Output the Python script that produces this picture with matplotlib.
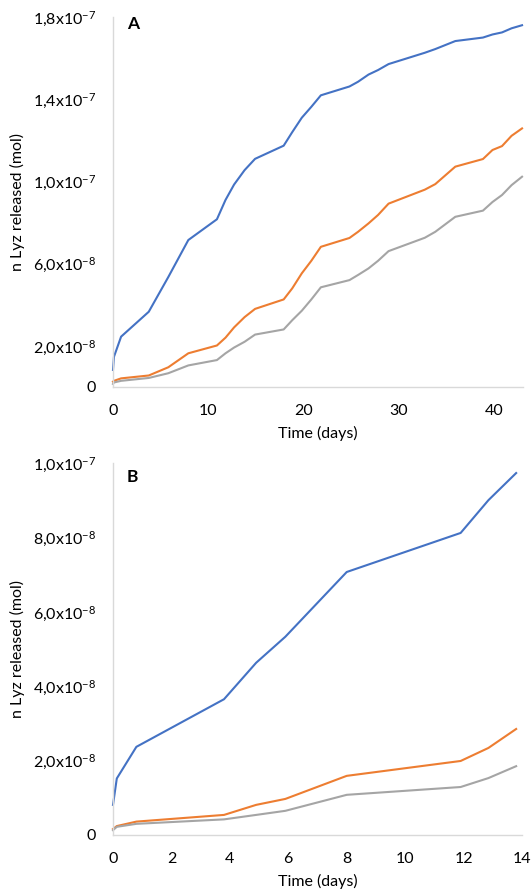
import matplotlib
matplotlib.use("Agg")
import matplotlib.pyplot as plt

plt.rcParams['font.family'] = ['Lato', 'DejaVu Sans']
plt.rcParams['mathtext.default'] = 'regular'

# Panel A data (values in units of 1e-8 mol)
tA = [0, 0.1, 0.85, 3.75, 5.8, 7.9, 10.9, 11.8, 12.7, 13.8, 14.9, 17.9, 18.8, 19.8,
      20.8, 21.8, 24.8, 25.7, 26.8, 27.8, 28.9, 32.7, 33.8, 35.9, 38.8, 39.8, 40.8, 41.8, 42.9]
blueA = [0.83, 1.47, 2.45, 3.66, 5.35, 7.15, 8.16, 9.1, 9.85, 10.55, 11.1, 11.74, 12.4, 13.1,
         13.63, 14.19, 14.62, 14.85, 15.2, 15.42, 15.71, 16.26, 16.44, 16.83, 17.0, 17.15, 17.25, 17.45, 17.6]
orangeA = [0.26, 0.3, 0.42, 0.56, 0.96, 1.64, 2.02, 2.4, 2.9, 3.4, 3.8, 4.26, 4.8, 5.53,
           6.14, 6.82, 7.25, 7.55, 7.96, 8.37, 8.92, 9.6, 9.87, 10.72, 11.09, 11.53, 11.72, 12.22, 12.58]
grayA = [0.15, 0.22, 0.3, 0.44, 0.67, 1.05, 1.31, 1.64, 1.92, 2.2, 2.55, 2.8, 3.25, 3.71,
         4.26, 4.85, 5.2, 5.45, 5.77, 6.14, 6.61, 7.26, 7.55, 8.28, 8.58, 9.0, 9.34, 9.82, 10.23]

# Panel B data (values in units of 1e-8 mol)
tB = [0, 0.13, 0.8, 3.8, 4.9, 5.9, 8.0, 11.9, 12.85, 13.8]
blueB = [0.81, 1.52, 2.37, 3.65, 4.63, 5.33, 7.07, 8.12, 9.0, 9.73]
orangeB = [0.16, 0.24, 0.36, 0.54, 0.81, 0.97, 1.59, 1.99, 2.34, 2.85]
grayB = [0.13, 0.22, 0.3, 0.42, 0.54, 0.65, 1.08, 1.29, 1.53, 1.85]

SCALE = 1e-8

yticksA = [0, 2e-8, 6e-8, 1e-7, 1.4e-7, 1.8e-7]
yticklabelsA = ['0', r'2,0x10$^{-8}$', r'6,0x10$^{-8}$', r'1,0x10$^{-7}$', r'1,4x10$^{-7}$', r'1,8x10$^{-7}$']
xticksA = [0, 10, 20, 30, 40]

yticksB = [0, 2e-8, 4e-8, 6e-8, 8e-8, 1e-7]
yticklabelsB = ['0', r'2,0x10$^{-8}$', r'4,0x10$^{-8}$', r'6,0x10$^{-8}$', r'8,0x10$^{-8}$', r'1,0x10$^{-7}$']
xticksB = [0, 2, 4, 6, 8, 10, 12, 14]

BLUE = '#4472C4'
ORANGE = '#ED7D31'
GRAY = '#A5A5A5'
SPINE = '#D9D9D9'

fig = plt.figure(figsize=(5.32, 8.9), dpi=100)
W, H = 532, 890

def make_ax(l, r, t, b):
    return fig.add_axes([l / W, 1 - b / H, (r - l) / W, (b - t) / H])

axA = make_ax(113, 523, 17, 387)
axB = make_ax(113, 522, 463, 835)

def style(ax, xlim, ylim, xticks, yticks, ylabels, letter, letter_top_px):
    ax.set_xlim(*xlim)
    ax.set_ylim(*ylim)
    ax.set_xticks(xticks)
    ax.set_xticklabels([str(x) for x in xticks])
    ax.set_yticks(yticks)
    ax.set_yticklabels(ylabels)
    for s in ['top', 'right']:
        ax.spines[s].set_visible(False)
    for s in ['left', 'bottom']:
        ax.spines[s].set_color(SPINE)
        ax.spines[s].set_linewidth(1.0)
    ax.tick_params(axis='both', length=0, labelsize=11.5, colors='#000000')
    ax.tick_params(axis='y', pad=12)
    ax.tick_params(axis='x', pad=12)
    ax.set_xlabel('Time (days)', fontsize=11.5, labelpad=6)
    ax.set_ylabel('n Lyz released (mol)', fontsize=11.5, labelpad=6)
    fig.text(127 / W, 1 - letter_top_px / H, letter, fontsize=12.5,
             fontweight='bold', va='top', ha='left')

for ax, t, series in [(axA, tA, (blueA, orangeA, grayA)), (axB, tB, (blueB, orangeB, grayB))]:
    for vals, c in zip(series, (BLUE, ORANGE, GRAY)):
        ax.plot(t, [v * SCALE for v in vals], color=c, lw=1.5, solid_joinstyle='round',
                clip_on=False)

style(axA, (0, 43), (0, 1.8e-7), xticksA, yticksA, yticklabelsA, 'A', 16)
style(axB, (0, 14), (0, 1e-7), xticksB, yticksB, yticklabelsB, 'B', 469)

fig.savefig('out.png', dpi=100)
